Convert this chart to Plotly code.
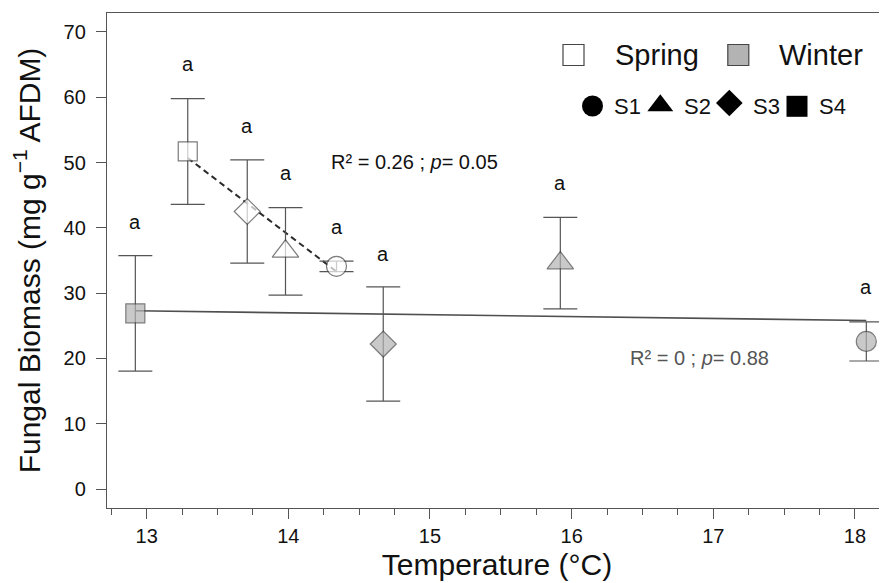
import plotly.graph_objects as go

# ---------------- data ----------------
sites = ["S1", "S2", "S3", "S4"]
site_symbols = ["circle", "triangle-up", "diamond", "square"]
site_sizes = [20, 23, 20, 19]

spring_temp = [14.34, 13.98, 13.71, 13.29]
spring_biomass = [34.1, 36.4, 42.5, 51.7]
spring_se = [0.8, 6.7, 7.9, 8.1]
spring_letters = ["a", "a", "a", "a"]
spring_letter_y = [40.0, 48.25, 55.5, 64.9]

winter_temp = [18.08, 15.92, 14.67, 12.92]
winter_biomass = [22.6, 34.6, 22.2, 26.9]
winter_se = [3.0, 7.0, 8.75, 8.85]
winter_letters = ["a", "a", "a", "a"]
winter_letter_y = [30.8, 46.7, 35.9, 40.8]

spring_fit_x = [13.29, 14.34]
spring_fit_y = [50.7, 33.3]
winter_fit_x = [12.92, 18.08]
winter_fit_y = [27.3, 25.8]

spring_stats = "R² = 0.26 ; <i>p</i>= 0.05"
spring_stats_pos = (14.894, 50.1)
winter_stats = "R² = 0 ; <i>p</i>= 0.88"
winter_stats_pos = (16.90, 20.05)

x_ticks = [13, 14, 15, 16, 17, 18]
y_ticks = [0, 10, 20, 30, 40, 50, 60, 70]

# ---------------- style ----------------
FONT = "Liberation Sans, Arial, Helvetica, sans-serif"
PAGE_OFFSET = 8                      # default body margin of the html page
VW, VH = 887, 583                    # browser window
W, H = VW - PAGE_OFFSET, VH - PAGE_OFFSET
PLOT_L, PLOT_R, PLOT_T, PLOT_B = 107, 887, 13, 508   # plot box in window pixels
ML = PLOT_L - PAGE_OFFSET
MT = PLOT_T - PAGE_OFFSET
MR = VW - PLOT_R
MB = VH - PLOT_B
PW, PH = PLOT_R - PLOT_L, PLOT_B - PLOT_T
AX = "#555555"
EDGE = "#454545"
GREY = "#b3b3b3"


def fx(px):
    return (px - PLOT_L) / PW


def fy(py):
    return (PLOT_B - py) / PH


fig = go.Figure()

# regression lines (under markers)
fig.add_trace(go.Scatter(x=winter_fit_x, y=winter_fit_y, mode="lines",
                         line=dict(color="#4f4f4f", width=1.6),
                         showlegend=False, hoverinfo="skip"))
fig.add_trace(go.Scatter(x=spring_fit_x, y=spring_fit_y, mode="lines",
                         line=dict(color="#2a2a2a", width=2, dash="6px,4px"),
                         showlegend=False, hoverinfo="skip"))

# data points
for name, xs, ys, se, fill in [("Winter", winter_temp, winter_biomass, winter_se, GREY),
                               ("Spring", spring_temp, spring_biomass, spring_se, "white")]:
    fig.add_trace(go.Scatter(
        x=xs, y=ys, mode="markers", name=name, showlegend=False,
        text=sites,
        error_y=dict(type="data", array=se, visible=True, color=AX,
                     thickness=1.2, width=17),
        marker=dict(symbol=site_symbols, size=site_sizes, color=fill,
                    line=dict(color=EDGE, width=1.2)),
    ))

# significance letters
annotations = []
for xs, ys, letters in [(spring_temp, spring_letter_y, spring_letters),
                        (winter_temp, winter_letter_y, winter_letters)]:
    for x, y, t in zip(xs, ys, letters):
        annotations.append(dict(x=x, y=y, xref="x", yref="y", text=t,
                                showarrow=False, font=dict(size=20, color="#111", family=FONT),
                                xanchor="center", yanchor="middle", yshift=1))

annotations.append(dict(x=spring_stats_pos[0], y=spring_stats_pos[1], xref="x", yref="y",
                        text=spring_stats, showarrow=False,
                        font=dict(size=20, color="#111", family=FONT),
                        xanchor="center", yanchor="middle"))
annotations.append(dict(x=winter_stats_pos[0], y=winter_stats_pos[1], xref="x", yref="y",
                        text=winter_stats, showarrow=False,
                        font=dict(size=20, color="#555", family=FONT),
                        xanchor="center", yanchor="middle"))

# ---------------- custom legend (overlay axes in plot fraction) ----------------
legend_season = [("Spring", "white", 573.5, 613.0), ("Winter", GREY, 738.3, 776.5)]
for label, fill, sx, tx in legend_season:
    fig.add_trace(go.Scatter(x=[fx(sx)], y=[fy(55)], xaxis="x2", yaxis="y2",
                             mode="markers", showlegend=False, hoverinfo="skip",
                             marker=dict(symbol="square", size=21, color=fill,
                                         line=dict(color=EDGE, width=1.2))))
    annotations.append(dict(x=fx(tx), y=fy(55), xref="x2", yref="y2", text=label,
                            showarrow=False, xanchor="left", yanchor="middle",
                            font=dict(size=29, color="#111", family=FONT)))

legend_site_sym_x = [592.5, 660.3, 729.3, 797.0]
legend_site_sym_y = [106, 105.5, 103, 106.3]
legend_site_sym_size = [21, 22.5, 20.5, 21]
legend_site_text_x = [611.7, 681.7, 750.7, 817.3]
for s, sym, sx, sy, ss, tx in zip(sites, site_symbols, legend_site_sym_x, legend_site_sym_y,
                                  legend_site_sym_size, legend_site_text_x):
    fig.add_trace(go.Scatter(x=[fx(sx)], y=[fy(sy)], xaxis="x2", yaxis="y2",
                             mode="markers", showlegend=False, hoverinfo="skip",
                             marker=dict(symbol=sym, size=ss, color="black",
                                         line=dict(width=0))))
    annotations.append(dict(x=fx(tx), y=fy(106), xref="x2", yref="y2", text=s,
                            showarrow=False, xanchor="left", yanchor="middle",
                            font=dict(size=22, color="#111", family=FONT)))

fig.update_layout(
    width=W, height=H,
    margin=dict(l=ML, r=MR, t=MT, b=MB, pad=0),
    paper_bgcolor="white", plot_bgcolor="white",
    font=dict(family=FONT, color="#111"),
    showlegend=False,
    annotations=annotations,
    xaxis=dict(
        range=[12.72, 18.226], tickvals=x_ticks, ticktext=[str(v) for v in x_ticks],
        showgrid=False, zeroline=False, showline=True, linecolor=AX, linewidth=1.3,
        mirror=True, ticks="outside", ticklen=10, tickwidth=1.3, tickcolor=AX,
        tickfont=dict(size=20, color="#111"),
        minor=dict(dtick=0.25, ticks="outside", ticklen=6, tickwidth=1.2, tickcolor=AX),
        title=dict(text="Temperature (°C)", font=dict(size=30, color="#111"), standoff=7),
    ),
    yaxis=dict(
        range=[-2.91, 72.9], tickvals=y_ticks,
        showgrid=False, zeroline=False, showline=True, linecolor=AX, linewidth=1.3,
        ticks="outside", ticklen=10, tickwidth=1.3, tickcolor=AX,
        ticklabelstandoff=6,
        tickfont=dict(size=20, color="#111"),
        title=dict(text="Fungal Biomass (mg g<sup>−1</sup> AFDM)",
                   font=dict(size=30, color="#111"), standoff=15),
    ),
    xaxis2=dict(overlaying="x", range=[0, 1], visible=False, anchor="y2"),
    yaxis2=dict(overlaying="y", range=[0, 1], visible=False, anchor="x2"),
)

fig.write_html("out.html")
